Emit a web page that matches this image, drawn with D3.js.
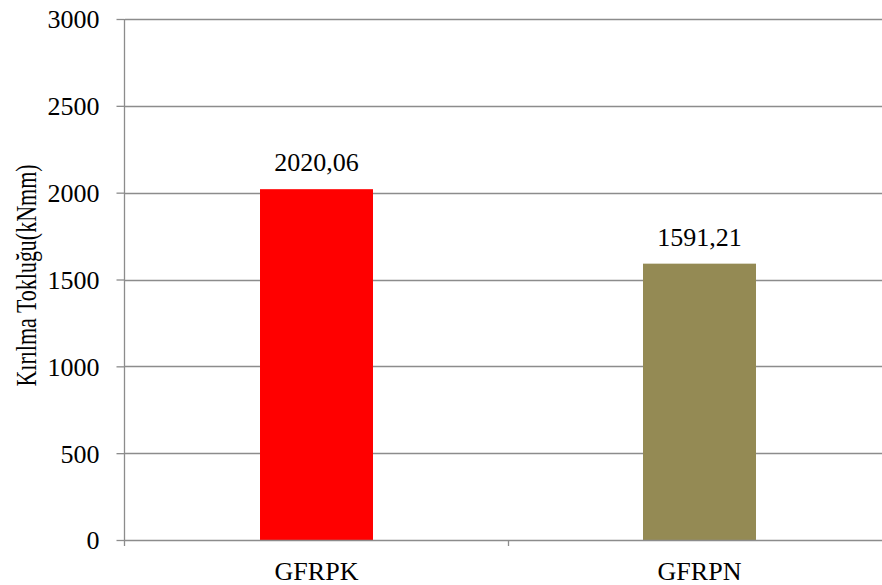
<!DOCTYPE html>
<html>
<head>
<meta charset="utf-8">
<script src="https://cdn.jsdelivr.net/npm/d3@7"></script>
<style>
  html, body { margin: 0; padding: 0; background: #fff; }
  svg { display: block; }
  svg text { font-family: "Liberation Serif", "Times New Roman", Times, serif; fill: #000; }
</style>
</head>
<body>
<svg id="chart" width="882" height="585"></svg>
<script>
// Fracture toughness per specimen type
const categories = ["GFRPK", "GFRPN"];
const values = [2020.06, 1591.21];
const valueLabels = ["2020,06", "1591,21"];
const barColors = ["#FF0000", "#948A54"];
const yTicks = [0, 500, 1000, 1500, 2000, 2500, 3000];
const yTitle = "Kırılma Tokluğu(kNmm)";

const serif = '"Liberation Serif", "Times New Roman", Times, serif';
const svg = d3.select("#chart");
const plotLeft = 125, plotRight = 891, plotTop = 19, plotBottom = 540;

const x = d3.scaleBand().domain(categories).range([plotLeft, plotRight]).paddingInner(0).paddingOuter(0);
const barW = x.bandwidth() * 0.295;
const y = d3.scaleLinear().domain([0, 3000]).range([plotBottom, plotTop]);

const gridColor = "#8c8c8c";

// horizontal gridlines
svg.append("g").selectAll("line").data(yTicks.filter(d => d > 0)).join("line")
  .attr("x1", plotLeft).attr("x2", plotRight)
  .attr("y1", d => Math.round(y(d)) + 0.5).attr("y2", d => Math.round(y(d)) + 0.5)
  .attr("stroke", gridColor).attr("stroke-width", 1.3);

// y axis
const yAxis = d3.axisLeft(y).tickValues(yTicks).tickSize(8).tickPadding(17).tickFormat(d3.format("d"));
const gy = svg.append("g").attr("transform", `translate(${plotLeft - 0.5},0)`).call(yAxis)
  .attr("font-family", serif).attr("font-size", 26);
gy.select(".domain").attr("stroke", gridColor).attr("stroke-width", 1.3).attr("d", `M0,${plotTop}V${plotBottom + 6}`);
gy.selectAll(".tick line").attr("stroke", gridColor).attr("stroke-width", 1.3);
gy.selectAll(".tick text").attr("fill", "#000").attr("dy", "0.34em");

// bars
svg.append("g").selectAll("rect").data(values).join("rect")
  .attr("x", (d, i) => x(categories[i]) + (x.bandwidth() - barW) / 2)
  .attr("y", d => y(d))
  .attr("width", barW)
  .attr("height", d => y(0) - y(d))
  .attr("fill", (d, i) => barColors[i]);

// x axis
const xAxis = d3.axisBottom(x).tickSize(0).tickPadding(21);
const gx = svg.append("g").attr("transform", `translate(0,${plotBottom + 0.5})`).call(xAxis)
  .attr("font-family", serif).attr("font-size", 26);
gx.select(".domain").attr("stroke", gridColor).attr("stroke-width", 1.3).attr("d", `M${plotLeft},0H${plotRight}`);
gx.selectAll(".tick text").attr("fill", "#000");
// category separators
svg.append("g").selectAll("line").data(categories.slice(1)).join("line")
  .attr("x1", d => Math.round(x(d)) + 0.5).attr("x2", d => Math.round(x(d)) + 0.5)
  .attr("y1", plotBottom).attr("y2", plotBottom + 6)
  .attr("stroke", gridColor).attr("stroke-width", 1.3);

// value labels
svg.append("g").selectAll("text").data(values).join("text")
  .attr("x", (d, i) => x(categories[i]) + x.bandwidth() / 2)
  .attr("y", d => y(d) - 18)
  .attr("text-anchor", "middle")
  .attr("font-family", serif)
  .attr("font-size", 26)
  .text((d, i) => valueLabels[i]);

// y axis title (glyphs drawn slightly tall and narrow)
svg.append("text")
  .attr("transform", `translate(36,${(plotTop + plotBottom) / 2 - 4}) rotate(-90) scale(1,1.3)`)
  .attr("text-anchor", "middle")
  .attr("font-family", serif)
  .attr("font-size", 22)
  .text(yTitle);
</script>
</body>
</html>
